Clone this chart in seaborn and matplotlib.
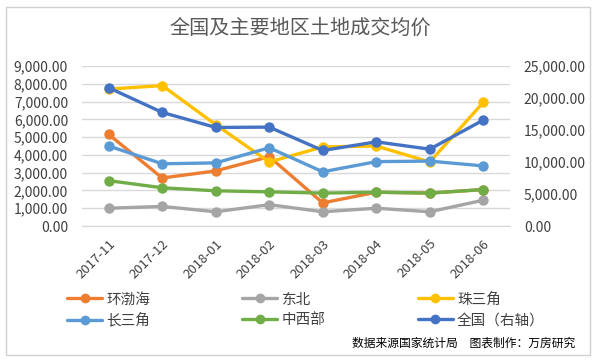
import matplotlib
matplotlib.use('Agg')
import matplotlib.pyplot as plt
from matplotlib.patches import Rectangle
from matplotlib.lines import Line2D
from matplotlib.ticker import FuncFormatter, FixedLocator
import pandas as pd
import seaborn as sns

months = ['2017-11', '2017-12', '2018-01', '2018-02', '2018-03', '2018-04', '2018-05', '2018-06']
huanbohai = [5150, 2700, 3100, 3900, 1300, 1900, 1850, 2050]
dongbei = [1000, 1100, 800, 1200, 800, 1000, 800, 1450]
zhusanjiao = [7700, 7900, 5700, 3600, 4450, 4500, 3600, 6950]
changsanjiao = [4500, 3500, 3550, 4400, 3050, 3620, 3650, 3380]
zhongxibu = [2550, 2150, 1980, 1920, 1850, 1900, 1850, 2050]
quanguo = [21600, 17750, 15400, 15450, 11800, 13150, 12000, 16550]

left_series = {'环渤海': huanbohai, '东北': dongbei, '珠三角': zhusanjiao,
               '长三角': changsanjiao, '中西部': zhongxibu}
colors = {'环渤海': '#ED7D31', '东北': '#A5A5A5', '珠三角': '#FFC000',
          '长三角': '#5B9BD5', '中西部': '#70AD47', '全国（右轴）': '#4472C4'}

sns.set_style('white')
plt.rcParams['font.family'] = ['Noto Sans CJK SC', 'DejaVu Sans']

df = pd.DataFrame([(m, k, v) for k, vals in left_series.items() for m, v in zip(months, vals)],
                  columns=['month', 'region', 'value'])
df_r = pd.DataFrame({'month': months, 'value': quanguo})

fig = plt.figure(figsize=(6, 3.63), dpi=100)
ax = fig.add_axes([82/600, 1 - 226/363, (510-82)/600, 160/363])
ax2 = ax.twinx()

line_kw = dict(linewidth=2.4, marker='o', markersize=7.5, markeredgewidth=0)
sns.lineplot(data=df, x='month', y='value', hue='region', palette=colors,
             ax=ax, legend=False, **line_kw)
sns.lineplot(data=df_r, x='month', y='value', color=colors['全国（右轴）'],
             ax=ax2, legend=False, **line_kw)

ax.set_ylim(0, 9000)
ax2.set_ylim(0, 25000)
ax.set_xlim(-0.5, len(months) - 0.5)
ax.set_yticks(range(0, 9001, 1000))
ax2.set_yticks(range(0, 25001, 5000))
fmt = FuncFormatter(lambda v, p: f'{v:,.2f}')
ax.yaxis.set_major_formatter(fmt)
ax2.yaxis.set_major_formatter(fmt)
ax.grid(axis='y', color='#D9D9D9', linewidth=1)
ax.set_axisbelow(True)
ax.set_xlabel('')
ax.set_ylabel('')
ax2.set_ylabel('')

ax.set_xticks(range(len(months)))
ax.set_xticklabels(months, rotation=45, ha='right', rotation_mode='anchor')
ax.xaxis.set_minor_locator(FixedLocator([i - 0.5 for i in range(len(months) + 1)]))
ax.tick_params(axis='x', which='major', length=0, labelsize=9.5, colors='#404040', pad=8)
ax.tick_params(axis='x', which='minor', length=5, color='#D9D9D9', direction='out')
ax.tick_params(axis='y', length=0, labelsize=10, colors='#404040', pad=10)
ax2.tick_params(axis='y', length=0, labelsize=10, colors='#404040', pad=10)

for a in (ax, ax2):
    for s in ('top', 'left', 'right'):
        a.spines[s].set_visible(False)
    a.spines['bottom'].set_color('#D9D9D9')

order = ['环渤海', '长三角', '东北', '中西部', '珠三角', '全国（右轴）']
handles = [Line2D([], [], color=colors[k], linewidth=2.4, marker='o', markersize=7,
                  markeredgewidth=0) for k in order]
fig.legend(handles, order, ncol=3, loc='center', bbox_to_anchor=(0.51, 1 - 310/363),
           frameon=False, fontsize=10.5, handlelength=2.4, columnspacing=6.3,
           labelspacing=0.45, handletextpad=0.3, labelcolor='#404040')

fig.text(0.5, 1 - 28/363, '全国及主要地区土地成交均价', ha='center', va='center',
         fontsize=14.5, color='#595959')
fig.text(575/600, 1 - 343/363, '数据来源国家统计局　图表制作：万房研究', ha='right',
         va='center', fontsize=8.5, color='#000000')

fig.add_artist(Rectangle((6/600, 1 - 355/363), 584/600, 348/363, transform=fig.transFigure,
                         fill=False, edgecolor='#D0D0D0', linewidth=1))

fig.savefig('out.png', dpi=100)
